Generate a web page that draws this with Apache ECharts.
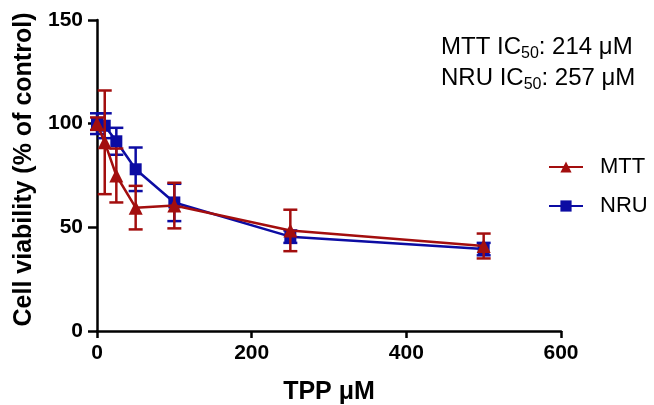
<!DOCTYPE html>
<html>
<head>
    <meta charset="utf-8">
    <title>Cell viability</title>
    <script src="https://cdn.jsdelivr.net/npm/echarts@6/dist/echarts.min.js"></script>
    <style>
        html, body { margin: 0; padding: 0; background: #fff; }
        #main { width: 654px; height: 405px; }
    </style>
</head>
<body>
<div id="main"></div>
<script type="text/javascript">
    // 浓度 (TPP uM)
    var doses = [0, 10, 25, 50, 100, 250, 500];
    // MTT 均值 / 误差
    var mttMean = [100, 91, 75, 59.5, 60.5, 48.5, 41];
    var mttErr = [3, 25, 13, 10.5, 11, 10, 6];
    // NRU 均值 / 误差
    var nruMean = [100, 99, 91.5, 78, 62, 45.5, 39.5];
    var nruErr = [5, 6, 6.5, 10.5, 9, 3, 3];
    var yTicks = [0, 50, 100, 150];
    var xTicks = [0, 200, 400, 600];

    var red = '#A30E0E';
    var blue = '#0C0CA3';
    var font = 'Liberation Sans, Arial, sans-serif';

    function pairs(ys) {
        return doses.map(function (d, i) { return [d, ys[i]]; });
    }
    function errData(mean, err) {
        return doses.map(function (d, i) { return [d, mean[i] - err[i], mean[i] + err[i]]; });
    }
    function errRender(color) {
        return function (params, api) {
            var lo = api.coord([api.value(0), api.value(1)]);
            var hi = api.coord([api.value(0), api.value(2)]);
            var w = 7;
            var st = { stroke: color, lineWidth: 2.5 };
            return {
                type: 'group',
                children: [
                    { type: 'line', shape: { x1: lo[0], y1: lo[1], x2: hi[0], y2: hi[1] }, style: st },
                    { type: 'line', shape: { x1: lo[0] - w, y1: lo[1], x2: lo[0] + w, y2: lo[1] }, style: st },
                    { type: 'line', shape: { x1: hi[0] - w, y1: hi[1], x2: hi[0] + w, y2: hi[1] }, style: st }
                ]
            };
        };
    }

    var myChart = echarts.init(document.getElementById('main'));
    var option = {
        animation: false,
        backgroundColor: '#fff',
        grid: { left: 97, right: 93, top: 20, bottom: 74, outerBoundsMode: 'none' },
        legend: {
            left: 548, top: 156, orient: 'vertical', itemGap: 17, padding: 0,
            itemWidth: 34, itemHeight: 14,
            textStyle: { fontSize: 22, fontFamily: font, color: '#000', padding: [0, 0, 0, 12] },
            data: ['MTT', 'NRU']
        },
        graphic: [{
            type: 'text', left: 441, top: 33,
            style: {
                text: '{a|MTT IC}{s|50}{a|: 214 μM}\n{a|NRU IC}{s|50}{a|: 257 μM}',
                rich: {
                    a: { fontSize: 24, fontFamily: font, color: '#000', lineHeight: 31 },
                    s: { fontSize: 16, fontFamily: font, color: '#000', lineHeight: 31, padding: [13, 0, 0, 0] }
                }
            }
        }],
        xAxis: {
            type: 'value', min: 0, max: 600, interval: 200,
            name: 'TPP μM', nameLocation: 'middle', nameGap: 49,
            nameTextStyle: { fontSize: 25, fontWeight: 'bold', fontFamily: font, color: '#000' },
            axisLine: { lineStyle: { color: '#000', width: 2.5 } },
            axisTick: { length: 7, lineStyle: { width: 2.5 } },
            axisLabel: { fontSize: 21, fontWeight: 'bold', fontFamily: font, color: '#000', margin: 12 },
            splitLine: { show: false }
        },
        yAxis: {
            type: 'value', min: 0, max: 150, interval: 50,
            name: 'Cell viability (% of control)', nameLocation: 'middle', nameGap: 57,
            nameTextStyle: { fontSize: 25, fontWeight: 'bold', fontFamily: font, color: '#000', padding: [0, 0, 0, 12] },
            axisLine: { show: true, lineStyle: { color: '#000', width: 2.5 } },
            axisTick: { show: true, length: 9, lineStyle: { width: 2.5 } },
            axisLabel: { fontSize: 21, fontWeight: 'bold', fontFamily: font, color: '#000', margin: 14 },
            splitLine: { show: false }
        },
        series: [
            {
                name: 'NRU', type: 'line', data: pairs(nruMean), z: 3,
                symbol: 'rect', symbolSize: 12,
                itemStyle: { color: blue }, lineStyle: { color: blue, width: 2.5 }
            },
            {
                name: 'NRU err', type: 'custom', data: errData(nruMean, nruErr), z: 2,
                renderItem: errRender(blue)
            },
            {
                name: 'MTT', type: 'line', data: pairs(mttMean), z: 5,
                symbol: 'triangle', symbolSize: 14,
                itemStyle: { color: red }, lineStyle: { color: red, width: 2.5 }
            },
            {
                name: 'MTT err', type: 'custom', data: errData(mttMean, mttErr), z: 4,
                renderItem: errRender(red)
            }
        ]
    };
    myChart.setOption(option);
</script>
</body>
</html>
